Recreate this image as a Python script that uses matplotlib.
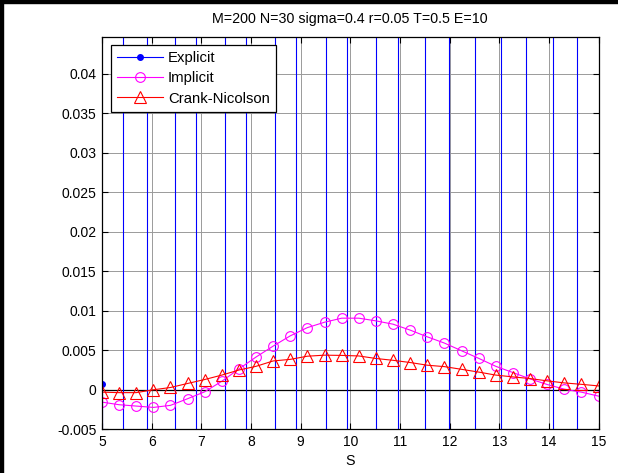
import matplotlib
matplotlib.use('Agg')
import matplotlib.pyplot as plt
import numpy as np
from matplotlib.patches import Rectangle

plt.rcParams['font.family'] = ['Liberation Sans', 'DejaVu Sans']

# Grid of S values (30 nodes between 5 and 15)
s_values = np.linspace(5, 15, 30)

# Explicit scheme: unstable, only the first node lies inside the window
explicit = [0.00075, -3.21e4, 1.0e5, -5.55e4, -3.26e4, 1.0e5, -1.119e5, -2.5e4,
            1.0e5, -1.558e5, -1.16e4, 1.0e5, -2.03e5, -7.2e3, 1.0e5, -2.049e5,
            1.03e3, 3.74e4, -1.0e5, 1.53e4, 3.64e4, -1.0e5, 2.41e4, 4.75e4,
            -1.0e5, 3.37e4, 4.75e4, -1.0e5, 3.42e4, 2.0e4]

implicit = [-0.00156, -0.00189, -0.00206, -0.00223, -0.00197, -0.00113, -0.00025,
            0.00108, 0.00264, 0.00415, 0.00553, 0.00683, 0.00787, 0.00855, 0.00906,
            0.00906, 0.00872, 0.0083, 0.00755, 0.0067, 0.00591, 0.00494, 0.00398,
            0.00297, 0.00218, 0.00138, 0.00067, 0.00008, -0.0003, -0.0008]

crank_nicolson = [-0.0003, -0.00036, -0.00036, 0.0, 0.00029, 0.0008, 0.0013,
                  0.00186, 0.0025, 0.00297, 0.00365, 0.00385, 0.00425, 0.00438,
                  0.00435, 0.00428, 0.00396, 0.00373, 0.00345, 0.00311, 0.00293,
                  0.00259, 0.00224, 0.00186, 0.00163, 0.00142, 0.00113, 0.00087,
                  0.00069, 0.00049]

title_text = 'M=200 N=30 sigma=0.4 r=0.05 T=0.5 E=10'

fig = plt.figure(figsize=(6.18, 4.73), dpi=100)
fig.set_facecolor('white')
ax = fig.add_axes([102 / 618, 1 - 429.3 / 473, 496.5 / 618, 392 / 473])

# Grid and zero line
ax.grid(True, color='#9a9a9a', linestyle='-', linewidth=0.7)
ax.set_axisbelow(True)
ax.axhline(0, color='black', linewidth=0.9, zorder=1.5)

ax.plot(s_values, explicit, color='#0000ff', marker='.', markersize=8,
        linewidth=0.8, label='Explicit')
ax.plot(s_values, implicit, color='#ff00ff', marker='o', markersize=7,
        markerfacecolor='none', markeredgewidth=0.8, linewidth=0.8, label='Implicit')
ax.plot(s_values, crank_nicolson, color='#ff0000', marker='^', markersize=8.5,
        markerfacecolor='none', markeredgewidth=0.8, linewidth=0.8, label='Crank-Nicolson')

ax.set_xlim(5, 15)
ax.set_ylim(-0.005, 0.0446)
ax.set_xticks(np.arange(5, 16, 1))
ax.set_yticks(np.arange(-0.005, 0.0401, 0.005))
ax.set_yticklabels(['-0.005', '0', '0.005', '0.01', '0.015', '0.02', '0.025',
                    '0.03', '0.035', '0.04'])

ax.tick_params(direction='in', length=4, width=0.8, top=True, right=True,
               labelsize=10, pad=4)
for sp in ax.spines.values():
    sp.set_linewidth(0.9)
    sp.set_color('black')

ax.set_xlabel('S', fontsize=10.3, labelpad=4)
ax.set_title(title_text, fontsize=10.3, pad=10)

leg = ax.legend(loc='upper left', bbox_to_anchor=(0.0175, 0.980), borderaxespad=0,
                fancybox=False, framealpha=1, edgecolor='black', fontsize=10.7,
                handlelength=3.1, handletextpad=0.35, labelspacing=0.42,
                borderpad=0.4)
leg.get_frame().set_linewidth(0.9)

# Black border at top and left of the screenshot
fig.add_artist(Rectangle((0, 1 - 3 / 473), 1, 3 / 473, transform=fig.transFigure,
                         color='black', zorder=10))
fig.add_artist(Rectangle((0, 0), 3 / 618, 1, transform=fig.transFigure,
                         color='black', zorder=10))

plt.savefig('out.png', dpi=100, facecolor=fig.get_facecolor())
